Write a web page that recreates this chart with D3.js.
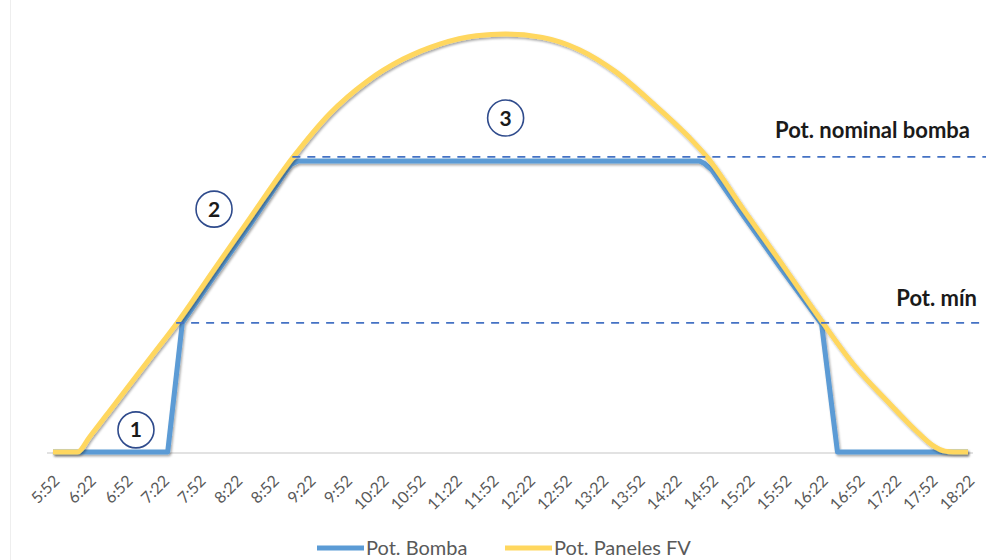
<!DOCTYPE html>
<html>
<head>
<meta charset="utf-8">
<script src="https://cdn.jsdelivr.net/npm/d3@7"></script>
<style>
  html, body { margin: 0; padding: 0; background: #ffffff; }
  svg { display: block; font-family: Lato, "Open Sans", sans-serif; }
</style>
</head>
<body>
<svg id="chart" width="986" height="560"></svg>
<script>
// Time of day (H:MM) and power as % of the PV peak
const pvTimes  = ["5:52","6:12","6:22","6:42","7:12","7:34","8:04","8:34","9:09","9:39","10:09","10:39","11:09","11:39","12:03","12:33","13:03","13:33","14:03","14:33","14:48","15:18","15:48","16:18","16:48","17:18","17:38","17:53","18:03","18:10","18:22"];
const pvValues = [0, 0, 3.6, 11.2, 22.6, 31.0, 43.6, 56.2, 70.6, 81.0, 88.6, 94.0, 97.6, 99.6, 100, 99.2, 96.3, 91.0, 83.6, 75.4, 70.6, 58.0, 45.6, 33.0, 21.0, 11.5, 5.5, 1.6, 0.2, 0, 0];

const pumpTimes  = ["5:52","7:26","7:38","8:04","8:34","9:03","9:07","9:13","14:42","14:46","14:52","15:18","15:48","16:22","16:35","18:22"];
const pumpValues = [0, 0, 30.9, 42.0, 54.6, 67.2, 68.8, 69.6, 69.6, 69.0, 67.5, 56.5, 44.2, 30.6, 0, 0];

// Reference levels
const levelNames  = ["Pot. nominal bomba", "Pot. mín"];
const levelValues = [70.6, 30.9];

// Stage markers: number, time, value
const stageNumbers = ["1", "2", "3"];
const stageTimes   = ["7:00", "8:04", "12:03"];
const stageValues  = [5.3, 58.1, 79.9];

// Category labels along the time axis
const tickLabels = ["5:52","6:22","6:52","7:22","7:52","8:22","8:52","9:22","9:52","10:22","10:52","11:22","11:52","12:22","12:52","13:22","13:52","14:22","14:52","15:22","15:52","16:22","16:52","17:22","17:52","18:22"];

const seriesNames  = ["Pot. Bomba", "Pot. Paneles FV"];
const seriesColors = ["#5B9BD5", "#FFD75E"];

const toMin = s => { const [h, m] = s.split(":").map(Number); return h * 60 + m; };

const svg = d3.select("#chart");

const x = d3.scaleLinear()
  .domain([toMin(tickLabels[0]), toMin(tickLabels[tickLabels.length - 1])])
  .range([53, 968]);
const y = d3.scaleLinear().domain([0, 100]).range([452, 34]);

// soft drop shadow under the series lines
const defs = svg.append("defs");
const f = defs.append("filter").attr("id", "shadow")
  .attr("x", "-5%").attr("y", "-5%").attr("width", "110%").attr("height", "115%");
f.append("feDropShadow").attr("dx", 1.2).attr("dy", 1.8).attr("stdDeviation", 1.3)
  .attr("flood-color", "#000").attr("flood-opacity", 0.35);

// faint outer frame edge on the left
svg.append("line").attr("x1", 10.5).attr("x2", 10.5).attr("y1", 0).attr("y2", 560)
  .attr("stroke", "#eeeeee").attr("stroke-width", 1);

// category axis
const axis = d3.axisBottom(x)
  .tickValues(tickLabels.map(toMin))
  .tickFormat((d, i) => tickLabels[i])
  .tickSize(0);
const gx = svg.append("g").attr("transform", `translate(0,${y(0) + 1})`).call(axis);
gx.select(".domain").remove();
gx.selectAll("text")
  .attr("text-anchor", "end")
  .attr("dy", null)
  .attr("y", null)
  .attr("transform", "translate(7,29) rotate(-45)")
  .attr("fill", "#595959")
  .style("font-size", "16px")
  .style("font-family", "Lato, sans-serif");

svg.append("line")
  .attr("x1", x.range()[0] - 6).attr("x2", x.range()[1] + 5)
  .attr("y1", y(0) + 1).attr("y2", y(0) + 1)
  .attr("stroke", "#d9d9d9").attr("stroke-width", 1.3);

const pumpLine = d3.line().x(d => x(d[0])).y(d => y(d[1]));
const pvLine = d3.line().x(d => x(d[0])).y(d => y(d[1])).curve(d3.curveMonotoneX);
const pumpData = pumpTimes.map((t, i) => [toMin(t), pumpValues[i]]);
const pvData   = pvTimes.map((t, i) => [toMin(t), pvValues[i]]);

svg.append("path").datum(pumpData)
  .attr("d", pumpLine).attr("fill", "none")
  .attr("stroke", seriesColors[0]).attr("stroke-width", 5)
  .attr("stroke-linejoin", "round").attr("stroke-linecap", "butt")
  .attr("filter", "url(#shadow)");

svg.append("path").datum(pvData)
  .attr("d", pvLine).attr("fill", "none")
  .attr("stroke", seriesColors[1]).attr("stroke-width", 5)
  .attr("stroke-linejoin", "round").attr("stroke-linecap", "butt")
  .attr("filter", "url(#shadow)");

// first time the PV curve reaches a given level
function crossing(level) {
  for (let i = 1; i < pvData.length; i++) {
    const [t0, v0] = pvData[i - 1], [t1, v1] = pvData[i];
    if (v0 < level && v1 >= level) return t0 + (level - v0) / (v1 - v0) * (t1 - t0);
  }
  return pvData[0][0];
}

// dashed reference levels with labels
const labelRight = [970, 977];
const labelLift  = [19, 17];
levelValues.forEach((v, i) => {
  svg.append("line")
    .attr("x1", x(crossing(v)) - 1).attr("x2", 986)
    .attr("y1", y(v)).attr("y2", y(v))
    .attr("stroke", "#4472C4").attr("stroke-width", 1.6)
    .attr("stroke-dasharray", "8,7");
  svg.append("text")
    .attr("x", labelRight[i]).attr("y", y(v) - labelLift[i])
    .attr("text-anchor", "end")
    .attr("fill", "#1a1a1a")
    .style("font-weight", "bold").style("font-size", "22px")
    .text(levelNames[i]);
});

// numbered stage markers
stageNumbers.forEach((n, i) => {
  const cx = x(toMin(stageTimes[i])), cy = y(stageValues[i]);
  svg.append("circle").attr("cx", cx).attr("cy", cy).attr("r", 18)
    .attr("fill", "#ffffff").attr("stroke", "#2F4B8C").attr("stroke-width", 1.6);
  svg.append("text").attr("x", cx).attr("y", cy).attr("dy", "0.36em")
    .attr("text-anchor", "middle").attr("fill", "#1a1a1a")
    .style("font-weight", "bold").style("font-size", "21px")
    .text(n);
});

// legend
const legendX = [317, 505];
seriesNames.forEach((name, i) => {
  const g = svg.append("g").attr("transform", `translate(${legendX[i]},548)`);
  g.append("line").attr("x1", 0).attr("x2", 47).attr("y1", 0).attr("y2", 0)
    .attr("stroke", seriesColors[i]).attr("stroke-width", 5);
  g.append("text").attr("x", 49).attr("y", 0).attr("dy", "0.33em")
    .attr("fill", "#595959").style("font-size", "20px")
    .text(name);
});
</script>
</body>
</html>
